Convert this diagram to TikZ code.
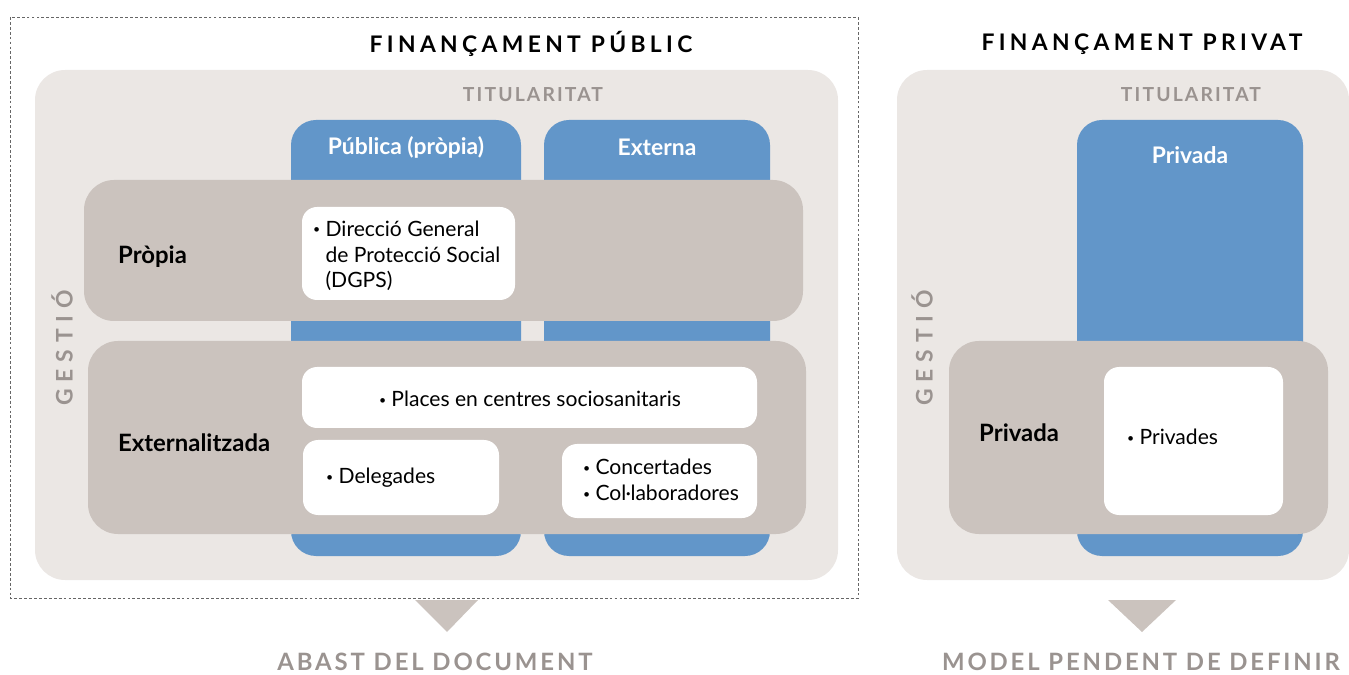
\documentclass[tikz,border=0pt]{standalone}
\usepackage{fontspec}
\setmainfont{Lato}
\newfontfamily\titlefont[LetterSpace=19]{Lato}
\newfontfamily\footfont[LetterSpace=12]{Lato}
\newfontfamily\axisfont[LetterSpace=11]{Lato}
\newfontfamily\widefont[LetterSpace=30]{Lato}
\usepackage{tikz}

\definecolor{panel}{HTML}{EBE7E4}
\definecolor{bar}{HTML}{CBC3BE}
\definecolor{column}{HTML}{6296C9}
\definecolor{caption}{HTML}{9A9390}

\newcommand{\bulletmark}{\raisebox{1.4pt}{\scriptsize\textbullet}}
\newcommand{\itembullet}{\bulletmark\hspace{3pt}}

\begin{document}
\begin{tikzpicture}[x=0.02cm, y=-0.02cm,
	panelbox/.style={fill=panel, rounded corners=0.6cm},
	columnbox/.style={fill=column, rounded corners=0.5cm},
	barbox/.style={fill=bar, rounded corners=0.6cm},
	itembox/.style={fill=white, rounded corners=0.3cm},
	title/.style={font=\titlefont\bfseries\fontsize{13}{15}\selectfont},
	footer/.style={font=\footfont\bfseries\fontsize{13.6}{15}\selectfont, text=caption},
	axis/.style={font=\axisfont\bfseries\fontsize{11}{13}\selectfont, text=caption},
	gestio/.style={font=\widefont\bfseries\fontsize{13}{15}\selectfont, text=caption, rotate=90},
	head/.style={font=\bfseries\fontsize{13}{15}\selectfont, text=white},
	rowlabel/.style={font=\bfseries\fontsize{13.6}{15}\selectfont, anchor=west},
	item/.style={font=\fontsize{12}{14.7}\selectfont, align=left}]

\useasboundingbox (0,0) rectangle (1349,675);

% public
\draw[dashed, color=black!60, dash pattern=on 1.6pt off 1.2pt] (10,17) rectangle (858,598);
\node[title] (pubtitle) at (531,44) {FINANÇAMENT PÚBLIC};

\fill[panelbox] (35,70) rectangle (838,580);
\node[axis] (pubtit) at (533,95) {TITULARITAT};
\node[gestio] (pubgest) at (62,348) {GESTIÓ};

\fill[columnbox] (291,120) rectangle (521,556);
\fill[columnbox] (544,120) rectangle (770,556);
\node[head] (publica) at (406,147) {Pública (pròpia)};
\node[head] (externa) at (657,147) {Externa};

\fill[barbox] (84,180) rectangle (803,321);
\fill[barbox] (88,341) rectangle (806,534);
\node[rowlabel] (propia) at (112,257) {Pròpia};
\node[rowlabel] (extern) at (112,443) {Externalitzada};

\fill[itembox] (302,207) rectangle (515,300);
\fill[itembox] (302,367) rectangle (757,428);
\fill[itembox] (303,440) rectangle (499,515);
\fill[itembox] (562,444) rectangle (757,518);

\node[item, anchor=west] (dgps) at (307,257)
	{\begin{tabular}{@{}l@{\hspace{3pt}}l@{}}\bulletmark&Direcció General\\&de Protecció Social\\&(DGPS)\end{tabular}};
\node[item] (places) at (530,399) {\itembullet Places en centres sociosanitaris};
\node[item, anchor=west] (delegades) at (320,478) {\itembullet Delegades};
\node[item, anchor=west] (concert) at (577,480)
	{\itembullet Concertades\\\itembullet Col·laboradores};

\fill[bar] (415,600) -- (478,600) -- (447,632) -- cycle;
\node[footer] (abast) at (435,662) {ABAST DEL DOCUMENT};

% private
\node[title] (privtitle) at (1142,44) {FINANÇAMENT PRIVAT};

\fill[panelbox] (897,70) rectangle (1349,580);
\node[axis] (privtit) at (1191,95) {TITULARITAT};
\node[gestio] (privgest) at (922,348) {GESTIÓ};

\fill[columnbox] (1077,120) rectangle (1303,556);
\node[head] (privada) at (1190,155) {Privada};

\fill[barbox] (949,341) rectangle (1328,534);
\node[rowlabel] (privrow) at (973,433) {Privada};

\fill[itembox] (1104,367) rectangle (1283,515);
\node[item, anchor=west] (privades) at (1121,437) {\itembullet Privades};

\fill[bar] (1108,600) -- (1176,600) -- (1142,632) -- cycle;
\node[footer] (model) at (1141,662) {MODEL PENDENT DE DEFINIR};

\end{tikzpicture}
\end{document}
